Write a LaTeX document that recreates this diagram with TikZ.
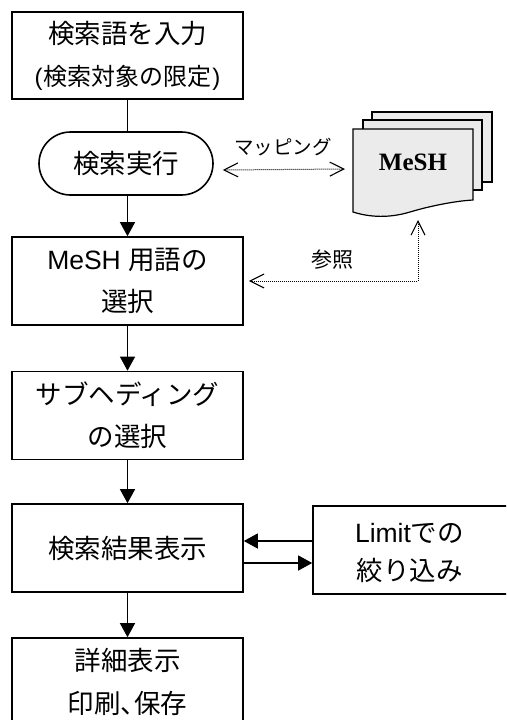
\documentclass[tikz,border=0pt]{standalone}
\usepackage{fontspec}
\setmainfont{Liberation Sans}
\newfontfamily\jp{Noto Sans CJK JP}
\newfontfamily\lat{Liberation Sans}
\newfontfamily\meshfont{Liberation Serif}
\usetikzlibrary{arrows.meta,shapes.misc}
\tikzset{myb/.tip={Straight Barb[length=14pt,width=14pt,line width=1.1pt]}}
\begin{document}
\begin{tikzpicture}[x=1pt,y=-1pt,
  box/.style={draw, line width=1.6pt, minimum width=231pt, minimum height=88pt,
    inner sep=0pt, align=center, font=\fontsize{26.5}{42}\selectfont\jp},
  arr/.style={line width=1.3pt, -{Triangle[length=14pt,width=15pt]}},
  dotarr/.style={line width=1pt, dash pattern=on 1pt off 1pt, myb-myb},
  sheet/.style={draw, line width=1.2pt, fill=black!8},
  lbl/.style={inner sep=0pt, font=\jp},
]
\useasboundingbox (0,0) rectangle (506,720);
\clip (0,0) rectangle (506,720);

% main flow
\node[box, minimum height=87pt] (b1) at (127.5,55.5)
  {検索語を入力\\{\fontsize{24}{41}\selectfont{\lat(\kern1pt}検索対象の限定{\lat\kern1pt)}}};
\node[draw, rounded rectangle, line width=1.6pt, minimum width=174pt,
  minimum height=63pt, inner sep=0pt, font=\fontsize{26.5}{30}\selectfont\jp]
  (t) at (126,163.5) {検索実行};
\node[box] (b2) at (127.5,281) {{\lat MeSH }用語の\\選択};
\node[box] (b3) at (127.5,415.5) {サブヘディング\\の選択};
\node[box] (b4) at (127.5,548) {検索結果表示};
\node[box, font=\fontsize{26.5}{43}\selectfont\jp] (b6) at (127.5,682)
  {詳細表示\\印刷{\addfontfeature{RawFeature=+halt}、}保存};
\node[box, minimum width=199pt] (lim) at (412.5,550) {};
\node[inner sep=0pt, align=center, font=\fontsize{26.5}{38}\selectfont\jp]
  (limtext) at ([xshift=-3pt,yshift=-3pt]lim.center) {{\lat Limit}での\\絞り込み};

\draw[line width=1.3pt] (b1.south) -- (b1.south |- t.north);
\draw[arr] (t.south -| b2.north) -- (b2.north);
\draw[arr] (b2.south) -- (b3.north);
\draw[arr] (b3.south) -- (b4.north);
\draw[arr] (b4.south) -- (b6.north);

\coordinate (l1) at ([yshift=9pt]lim.west);
\coordinate (l2) at ([yshift=-13pt]lim.west);
\draw[arr] (l1) -- (l1 -| b4.east);
\draw[arr] (l2 -| b4.east) -- (l2);

% MeSH document stack
\filldraw[sheet] (372,112) rectangle (492,182);
\filldraw[sheet] (363,120) rectangle (482,190);
\filldraw[sheet] (353,129) -- (473,129) -- (473,200)
  .. controls (455,201) and (430,206) .. (410,212)
  .. controls (395,216.5) and (375,219) .. (353,212) -- cycle;
\node[inner sep=0pt, font=\fontsize{25}{25}\selectfont\meshfont\bfseries]
  (mesh) at (413,162) {MeSH};

% dotted connectors
\coordinate (m1) at ([xshift=9pt,yshift=-6.5pt]t.east);
\coordinate (m2) at (345,169);
\draw[dotarr] (m1) -- (m2);
\node[lbl, font=\fontsize{19.5}{20}\selectfont\jp] (lmap) at (283,147) {マッピング};

\coordinate (r1) at (418,220);
\coordinate (r2) at ([xshift=5pt]b2.east);
\draw[dotarr] (r1) |- (r2);
\node[lbl, font=\fontsize{21}{21}\selectfont\jp] (lref) at (332,260) {参照};
\end{tikzpicture}
\end{document}
